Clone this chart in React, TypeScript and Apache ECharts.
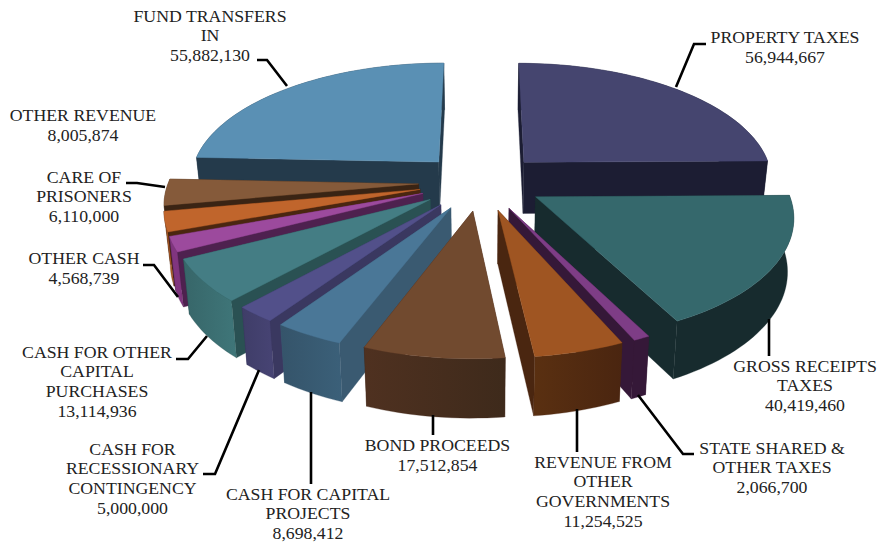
import React, { useEffect, useRef } from "react";
import * as echarts from "echarts";

// Revenue sources, clockwise from twelve o'clock.
const categories = [
  "PROPERTY TAXES",
  "GROSS RECEIPTS\nTAXES",
  "STATE SHARED &\nOTHER TAXES",
  "REVENUE FROM\nOTHER\nGOVERNMENTS",
  "BOND PROCEEDS",
  "CASH FOR CAPITAL\nPROJECTS",
  "CASH FOR\nRECESSIONARY\nCONTINGENCY",
  "CASH FOR OTHER\nCAPITAL\nPURCHASES",
  "OTHER CASH",
  "CARE OF\nPRISONERS",
  "OTHER REVENUE",
  "FUND TRANSFERS\nIN",
];
const values = [
  56944667, 40419460, 2066700, 11254525, 17512854, 8698412, 5000000, 13114936,
  4568739, 6110000, 8005874, 55882130,
];

// Face colours per slice.
const topColors = [
  "#45456f", "#35686c", "#7e3d86", "#9f5522", "#714a2f", "#4a7797",
  "#52508a", "#447d84", "#9c4a9d", "#c0652c", "#855a3a", "#5a90b4",
];
const sideColors = [
  "#1c1d33", "#172b2e", "#351838", "#4a2610", "#45291a", "#3a5a71",
  "#3a3860", "#2a5153", "#4e214f", "#4a2610", "#3a2414", "#243a4b",
];
const rimStart = [
  "#1c1d33", "#172b2e", "#351838", "#5a3011", "#4f3120", "#3b6079",
  "#474474", "#3f7679", "#80357f", "#b56028", "#6b482e", "#243a4b",
];
const rimEnd = [
  "#1c1d33", "#172b2e", "#351838", "#4a2510", "#3e2a1b", "#35546a",
  "#3f3d68", "#376669", "#80357f", "#b56028", "#6b482e", "#243a4b",
];

// Label anchors (block centre) and leader polylines.
const labelCentres = [
  [785, 48], [805, 386], [772, 468], [603, 492], [437.5, 455.5], [308, 514],
  [132.5, 479], [97, 382], [84, 269], [84, 197], [83, 125.5], [210, 36],
];
const leaders = [
  [[676, 87], [694, 44], [706, 44]],
  [[769, 319], [769, 356]],
  [[638, 395], [683, 454], [694, 454]],
  [[577, 409], [577, 452]],
  [[433, 415], [433, 435]],
  [[311, 392], [311, 484]],
  [[259, 370], [215, 474], [203, 474]],
  [[207, 336], [188, 359], [176, 359]],
  [[178, 297], [154, 265], [143, 265]],
  [[165, 187], [137, 183], [126, 183]],
  [],
  [[287, 86], [267, 60], [257, 60]],
];

// Projection of the pie plane.
const CX = 481;
const CY = 182;
const RX = 250;
const RY = 118;
const PERSPECTIVE = 0.14;
const EXPLODE = 0.25;
const DEPTH = 52;
const BASE_SHRINK = 0.98;

const project = (X: number, Y: number, lower: boolean) => {
  const s = 1 / (1 - PERSPECTIVE * Y);
  const px = RX * X * s;
  const py = RY * Y * s;
  if (!lower) return [CX + px, CY + py];
  return [CX + px * BASE_SHRINK, CY + py + DEPTH * Math.pow(s, 0.7)];
};

const total = values.reduce((a, b) => a + b, 0);
const fmt = (v: number) => v.toLocaleString("en-US");

function renderSlice(params: any, api: any) {
  const i = params.dataIndex;
  const before = values.slice(0, i).reduce((a, b) => a + b, 0);
  const value = api.value(0);
  const a0 = (before / total) * Math.PI * 2;
  const a1 = ((before + value) / total) * Math.PI * 2;
  const mid = (a0 + a1) / 2;
  const ax = EXPLODE * Math.sin(mid);
  const ay = -EXPLODE * 0.96 * Math.cos(mid);
  const steps = Math.max(3, Math.ceil((a1 - a0) / 0.03));
  const arc: number[][] = [];
  for (let k = 0; k <= steps; k++) {
    const t = a0 + ((a1 - a0) * k) / steps;
    arc.push([ax + Math.sin(t), ay - Math.cos(t)]);
  }
  const top = (p: number[]) => project(p[0], p[1], false);
  const low = (p: number[]) => project(p[0], p[1], true);
  const apex = [ax, ay];
  const first = arc[0];
  const last = arc[arc.length - 1];

  const walls = [
    { y: (ay + first[1]) / 2, pts: [top(apex), top(first), low(first), low(apex)], fill: sideColors[i] as any },
    { y: (ay + last[1]) / 2, pts: [top(apex), top(last), low(last), low(apex)], fill: sideColors[i] as any },
    {
      y: arc.reduce((s, p) => s + p[1], 0) / arc.length,
      pts: [...arc.map(top), ...arc.slice().reverse().map(low)],
      fill: new echarts.graphic.LinearGradient(0, 0, 1, 0, [
        { offset: 0, color: a0 > Math.PI ? rimEnd[i] : rimStart[i] },
        { offset: 1, color: a0 > Math.PI ? rimStart[i] : rimEnd[i] },
      ]) as any,
    },
  ].sort((p, q) => p.y - q.y);

  // Front slices paint over back ones: rank follows the apex depth.
  const rank = Math.round((ay + 1) * 1000) * 10;
  const children: any[] = walls.map((w, n) => ({
    type: "polygon",
    z2: rank + n,
    shape: { points: w.pts },
    style: { fill: w.fill, stroke: sideColors[i], lineWidth: 0.3 },
  }));
  children.push({
    type: "polygon",
    z2: rank + 5,
    shape: { points: [top(apex), ...arc.map(top)] },
    style: { fill: topColors[i], stroke: topColors[i], lineWidth: 0.4 },
  });
  return { type: "group", children };
}

export default function App() {
  const ref = useRef<HTMLDivElement>(null);
  useEffect(() => {
    const chart = echarts.init(ref.current!, undefined, { renderer: "svg" });
    const textEls = categories.map((name, i) => ({
      type: "text",
      x: labelCentres[i][0],
      y: labelCentres[i][1],
      scaleX: 1.11,
      z: 10,
      style: {
        text: `${name}\n${fmt(values[i])}`,
        font: '16px "Liberation Serif"',
        fill: "#222222",
        align: "center",
        verticalAlign: "middle",
        lineHeight: 19.7,
      },
    }));
    const leaderEls = leaders
      .filter((l) => l.length > 0)
      .map((l) => ({
        type: "polyline",
        z: 10,
        shape: { points: l },
        style: { stroke: "#000000", lineWidth: 2.6, fill: "none" },
      }));
    chart.setOption({
      animation: false,
      backgroundColor: "#ffffff",
      graphic: { elements: [...leaderEls, ...textEls] },
      series: [
        {
          type: "custom",
          coordinateSystem: "none",
          renderItem: renderSlice,
          data: values.map((v) => [v]),
          silent: true,
        },
      ],
    });
    return () => chart.dispose();
  }, []);
  return (
    <div
      ref={ref}
      style={{ position: "fixed", left: 0, top: 0, width: 879, height: 544 }}
    />
  );
}
